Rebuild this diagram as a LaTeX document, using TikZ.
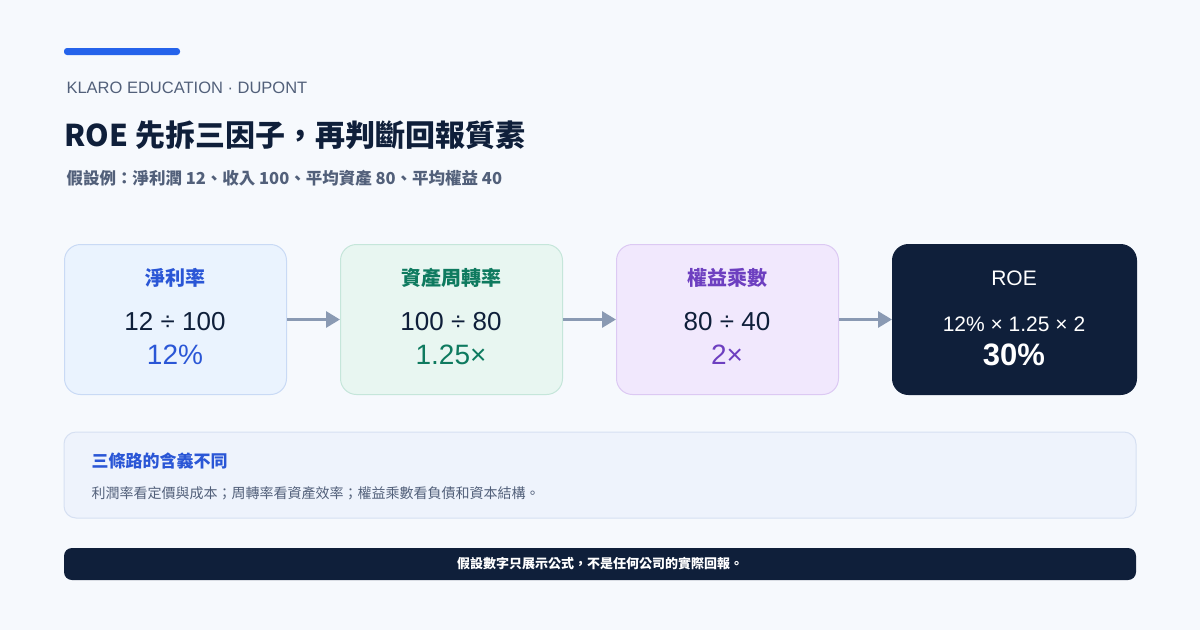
\documentclass[tikz,border=0pt]{standalone}
\usepackage{fontspec}
\setmainfont{Noto Sans CJK TC}
\newfontfamily\lat{Liberation Sans}
\usetikzlibrary{arrows.meta}
\definecolor{bg}{HTML}{F6F9FD}
\definecolor{navy}{HTML}{0F1F3A}
\definecolor{gr}{HTML}{52607A}
\definecolor{bl}{HTML}{2A56D6}
\definecolor{gn}{HTML}{0E7A5F}
\definecolor{pp}{HTML}{6D3FC0}
\definecolor{ar}{HTML}{8A9AB3}
\tikzset{
 box/.style={draw, line width=1pt, rounded corners=16pt, minimum width=222pt, minimum height=150pt, anchor=north west},
 ttl/.style={font=\fontsize{20}{24}\selectfont\bfseries},
 eq/.style={font=\lat\fontsize{26}{30}\selectfont, text=navy},
 res/.style={font=\lat\fontsize{28}{32}\selectfont},
 conn/.style={draw=ar, line width=3pt, -{Triangle[length=14pt,width=16pt]}}
}
\begin{document}
\begin{tikzpicture}[x=1pt,y=-1pt]
\fill[bg] (0,0) rectangle (1200,630);
\useasboundingbox (0,0) rectangle (1200,630);
\fill[rounded corners=3pt, color={rgb,255:red,37;green,99;blue,235}] (64,48) rectangle (180,55);
\node[anchor=west, text=gr, font=\lat\fontsize{16.5}{18}\selectfont] (brand) at (63,88) {KLARO EDUCATION · DUPONT};
\node[anchor=west, text=navy, font=\fontsize{30}{34}\selectfont\bfseries] (title) at (61,135) {ROE 先拆三因子，再判斷回報質素};
\node[anchor=west, text=gr, font=\fontsize{16.5}{18}\selectfont\bfseries] (sub) at (63,178) {假設例：淨利潤 12、收入 100、平均資產 80、平均權益 40};
\node[box, fill={rgb,255:red,234;green,243;blue,254}, draw={rgb,255:red,201;green,218;blue,245}] (b1) at (64,244) {};
\node[box, fill={rgb,255:red,232;green,246;blue,241}, draw={rgb,255:red,197;green,230;blue,218}] (b2) at (340,244) {};
\node[box, fill={rgb,255:red,241;green,232;blue,253}, draw={rgb,255:red,220;green,201;blue,243}] (b3) at (616,244) {};
\node[box, fill=navy, draw=navy, minimum width=244pt] (b4) at (892,244) {};
\node[ttl, text=bl] (t1) at (175,278) {淨利率};
\node[eq] (e1) at (175,322) {12 ÷ 100};
\node[res, text=bl] (r1) at (175,355) {12\%};
\node[ttl, text=gn] (t2) at (451,278) {資產周轉率};
\node[eq] (e2) at (451,322) {100 ÷ 80};
\node[res, text=gn] (r2) at (451,355) {1.25×};
\node[ttl, text=pp] (t3) at (727,278) {權益乘數};
\node[eq] (e3) at (727,322) {80 ÷ 40};
\node[res, text=pp] (r3) at (727,355) {2×};
\node[text=white, font=\lat\fontsize{21}{24}\selectfont] (t4) at (1014,278) {ROE};
\node[text=white, font=\lat\fontsize{21}{24}\selectfont] (e4) at (1014,324) {12\% × 1.25 × 2};
\node[text=white, font=\lat\fontsize{31}{34}\selectfont\bfseries] (r4) at (1014,355) {30\%};
\draw[conn] (b1.east) -- (b2.west);
\draw[conn] (b2.east) -- (b3.west);
\draw[conn] (b3.east) -- (b4.west);
\draw[line width=1pt, rounded corners=12pt, fill={rgb,255:red,238;green,243;blue,252}, draw={rgb,255:red,214;green,224;blue,242}] (64,432) rectangle (1136,518);
\node[anchor=west, text=bl, font=\fontsize{17}{20}\selectfont\bfseries] (nt) at (88,461) {三條路的含義不同};
\node[anchor=west, text=gr, font=\fontsize{14}{16}\selectfont] (nb) at (88,493) {利潤率看定價與成本；周轉率看資產效率；權益乘數看負債和資本結構。};
\fill[navy, rounded corners=8pt] (64,548) rectangle (1136,580);
\node[text=white, font=\fontsize{13}{15}\selectfont\bfseries] (ft) at (600,564) {假設數字只展示公式，不是任何公司的實際回報。};
\end{tikzpicture}
\end{document}
